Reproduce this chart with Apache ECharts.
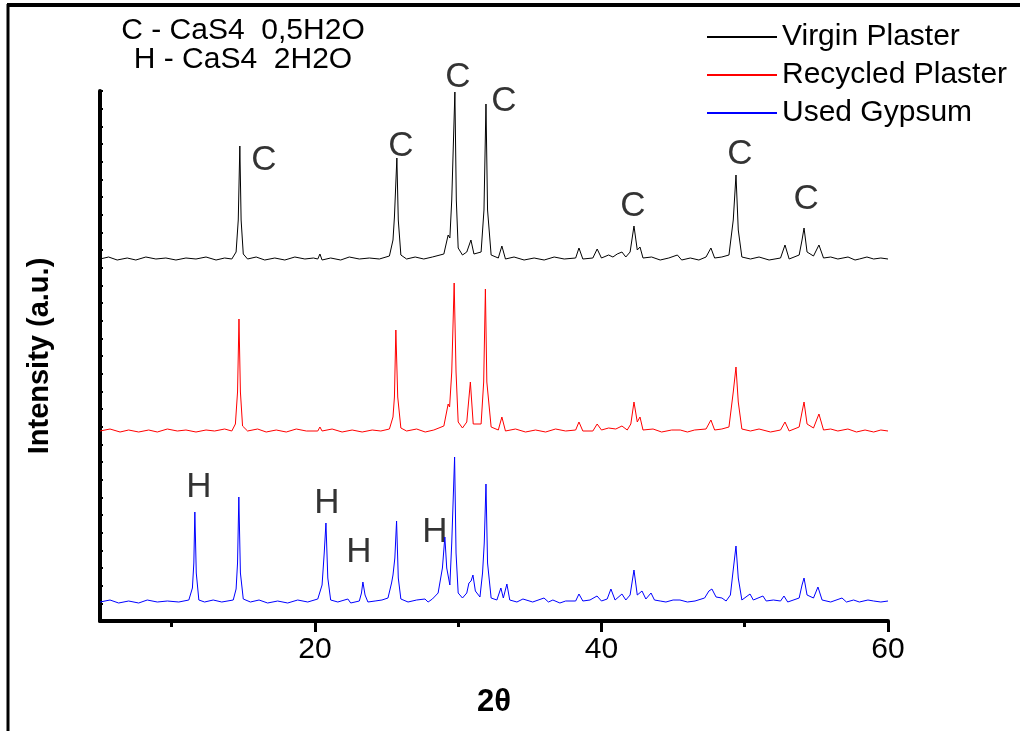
<!DOCTYPE html>
<html>
<head>
<meta charset="UTF-8">
<title>XRD</title>
<script src="https://cdn.jsdelivr.net/npm/echarts@6/dist/echarts.min.js"></script>
<style>
  html, body { margin: 0; padding: 0; background: #fff; }
  #chart { width: 1020px; height: 731px; }
</style>
</head>
<body>
<div id="chart"></div>
<script type="text/javascript">
// 2theta, intensity above each trace's own baseline
var virginPlaster = [
  [5, 1], [5.6, 3], [6.2, 0], [6.9, 2], [7.5, 0], [8.2, 3], [8.9, 1], [9.6, 2], [10.3, 0], [11, 2], [11.7, 1], [12.4, 3],
  [13.1, 0], [13.7, 2], [14.2, 1], [14.5, 8], [14.65, 40], [14.76, 114], [14.85, 40], [15.0, 6], [15.3, 1],
  [15.9, 3], [16.5, 0], [17.2, 2], [17.9, 0], [18.6, 3], [19.3, 1], [19.9, 2], [20.2, 1], [20.35, 6], [20.5, 0],
  [21.1, 2], [21.8, 0], [22.4, 3], [23.1, 1], [23.8, 2], [24.5, 1], [25.2, 4], [25.45, 20], [25.55, 43], [25.72, 102],
  [25.82, 40], [26.0, 5], [26.4, 1], [27.0, 3], [27.6, 1], [28.2, 3], [29.0, 6], [29.3, 25], [29.42, 22], [29.55, 60],
  [29.77, 168], [29.87, 60], [30.0, 12], [30.3, 5], [30.6, 8], [30.89, 20], [31.1, 6], [31.6, 8], [31.8, 50], [31.94, 156],
  [32.05, 50], [32.3, 5], [32.8, 2], [33.05, 14], [33.3, 1], [33.9, 3], [34.6, 0], [35.3, 2], [36.0, 0], [36.7, 3],
  [37.4, 1], [38.2, 2], [38.43, 12], [38.7, 1], [39.4, 2], [39.7, 11], [40.0, 2], [40.5, 5], [40.8, 3], [41.1, 6],
  [41.43, 8], [41.7, 3], [42.0, 8], [42.27, 34], [42.5, 10], [42.69, 13], [42.9, 2], [43.5, 3], [44.1, 0], [44.7, 2],
  [45.3, 5], [45.6, 0], [46.2, 2], [46.8, 0], [47.3, 3], [47.64, 12], [47.9, 2], [48.4, 3], [48.9, 5], [49.2, 40],
  [49.39, 85], [49.55, 30], [49.8, 3], [50.4, 1], [51, 3], [51.7, 0], [52.5, 2], [52.81, 15], [53.1, 1], [53.8, 5],
  [54.0, 20], [54.14, 32], [54.35, 8], [54.8, 4], [55.18, 15], [55.5, 2], [56.0, 3], [56.5, 1], [57.21, 3], [57.7, 0],
  [58.0, 1], [58.53, 3], [59, 1], [59.5, 2], [60, 1]
];
var recycledPlaster = [
  [5, 1], [5.7, 3], [6.4, 0], [7, 2], [7.7, 0], [8.4, 2], [9, 0], [9.7, 3], [10.4, 1], [11, 2], [11.7, 0], [12.4, 2],
  [13, 1], [13.7, 3], [14.2, 1], [14.45, 8], [14.6, 40], [14.7, 113], [14.8, 40], [14.95, 6], [15.3, 1], [16, 3],
  [16.6, 0], [17.3, 2], [18, 0], [18.7, 3], [19.4, 1], [20.2, 1], [20.35, 5], [20.5, 1], [21.2, 3], [21.9, 0],
  [22.6, 2], [23.3, 0], [24, 2], [24.6, 1], [25.2, 3], [25.45, 15], [25.55, 35], [25.65, 102], [25.78, 35], [26.0, 4],
  [26.4, 1], [27.1, 3], [27.7, 0], [28.3, 2], [29.0, 6], [29.3, 28], [29.4, 25], [29.55, 60], [29.72, 149], [29.85, 60],
  [30.0, 10], [30.3, 4], [30.6, 10], [30.85, 50], [31.05, 8], [31.6, 8], [31.78, 50], [31.9, 143], [32.0, 50], [32.3, 5],
  [32.8, 2], [33.05, 15], [33.3, 1], [34, 3], [34.7, 0], [35.4, 2], [36.1, 0], [36.8, 3], [37.5, 1], [38.2, 2],
  [38.43, 10], [38.7, 1], [39.4, 1], [39.7, 8], [40.0, 2], [40.5, 4], [41.0, 3], [41.43, 6], [41.8, 2], [42.05, 8],
  [42.27, 30], [42.5, 10], [42.69, 15], [42.9, 2], [43.6, 3], [44.2, 0], [44.9, 2], [45.5, 2], [46, 0], [46.5, 2],
  [47.3, 3], [47.64, 12], [47.9, 2], [48.4, 3], [48.9, 5], [49.2, 40], [49.39, 65], [49.55, 30], [49.8, 3], [50.4, 1],
  [51, 3], [51.8, 0], [52.5, 2], [52.81, 10], [53.1, 1], [53.8, 5], [54.0, 20], [54.14, 30], [54.35, 8], [54.8, 4],
  [55.18, 18], [55.5, 2], [56, 3], [56.5, 1], [57.2, 3], [57.8, 0], [58.4, 2], [59, 0], [59.5, 2], [60, 1]
];
var usedGypsum = [
  [5, 1], [5.7, 3], [6.3, 0], [7, 2], [7.7, 0], [8.3, 3], [9, 1], [9.7, 2], [10.5, 1], [11.2, 3], [11.45, 15], [11.55, 40],
  [11.62, 91], [11.72, 30], [11.9, 3], [12.3, 1], [12.9, 3], [13.5, 1], [14.3, 3], [14.5, 14], [14.6, 40], [14.69, 106],
  [14.8, 30], [15.0, 4], [15.5, 1], [16.1, 3], [16.7, 0], [17.4, 2], [18.1, 0], [18.8, 3], [19.5, 1], [20.2, 4],
  [20.5, 18], [20.65, 50], [20.77, 80], [20.9, 25], [21.1, 3], [21.6, 1], [22.3, 4], [22.5, 0], [23.1, 2], [23.25, 10],
  [23.35, 21], [23.5, 8], [23.7, 1], [24.2, 2], [24.68, 3], [25.1, 5], [25.35, 20], [25.45, 28], [25.58, 45], [25.7, 82],
  [25.82, 25], [26.0, 4], [26.5, 1], [27.1, 3], [27.68, 4], [27.9, 1], [28.2, 4], [28.6, 10], [28.9, 35], [29.07, 66],
  [29.2, 35], [29.42, 18], [29.55, 60], [29.75, 146], [29.85, 50], [30.0, 10], [30.3, 5], [30.6, 10], [30.75, 20],
  [30.9, 22], [31.03, 28], [31.2, 12], [31.52, 6], [31.7, 30], [31.82, 60], [31.94, 119], [32.05, 40], [32.3, 5],
  [32.7, 3], [32.98, 15], [33.15, 5], [33.4, 19], [33.6, 3], [34.1, 1], [34.52, 4], [35.2, 1], [35.99, 5], [36.3, 1],
  [36.61, 3], [37.1, 0], [37.5, 2], [38.2, 2], [38.43, 9], [38.7, 2], [39.2, 3], [39.69, 7], [40.0, 2], [40.4, 4],
  [40.66, 14], [40.95, 3], [41.43, 9], [41.7, 3], [42.0, 8], [42.27, 33], [42.5, 8], [42.83, 12], [43.1, 4], [43.46, 10],
  [43.7, 3], [44.1, 2], [44.5, 1], [45, 3], [45.48, 3], [46, 1], [46.53, 2], [47.2, 5], [47.5, 12], [47.71, 14],
  [48.0, 6], [48.41, 5], [48.7, 2], [49.0, 8], [49.18, 31], [49.39, 57], [49.55, 25], [49.8, 3], [50.37, 9], [50.6, 3],
  [51.27, 7], [51.5, 2], [52, 3], [52.5, 2], [52.74, 7], [53.0, 1], [53.8, 5], [54.0, 18], [54.14, 25], [54.35, 8],
  [54.8, 5], [55.11, 16], [55.4, 3], [56, 1], [56.79, 5], [57.1, 1], [57.6, 3], [58, 1], [58.6, 3], [59, 2], [59.5, 1], [60, 2]
];

var seriesNames = ['Virgin Plaster', 'Recycled Plaster', 'Used Gypsum'];
var seriesOffsets = [361, 189, 18];
var seriesColors = ['#000000', '#ff0000', '#0000ff'];

// phase marks: 2theta, intensity, letter
var peakMarks = [
  [16.44, 461, 'C'], [26.0, 475, 'C'], [29.98, 544, 'C'], [33.19, 520, 'C'],
  [42.2, 415, 'C'], [49.67, 467, 'C'], [54.28, 422, 'C'],
  [11.9, 134, 'H'], [20.84, 118, 'H'], [23.07, 69, 'H'], [28.38, 89, 'H']
];

var majorTicks = [20, 40, 60];
var minorTicks = [10, 30, 50];

var font = 'Arial, "Liberation Sans", sans-serif';
var myChart = echarts.init(document.getElementById('chart'));

var traces = [virginPlaster, recycledPlaster, usedGypsum];
var series = [];
for (var i = 0; i < traces.length; i++) {
  var off = seriesOffsets[i];
  series.push({
    name: seriesNames[i],
    type: 'line',
    showSymbol: false,
    symbol: 'none',
    lineStyle: { color: seriesColors[i], width: 1 },
    itemStyle: { color: seriesColors[i] },
    data: traces[i].map(function (p) { return [p[0], p[1] + off]; })
  });
}
series.push({
  type: 'scatter',
  clip: false,
  symbolSize: 0,
  silent: true,
  data: peakMarks,
  label: {
    show: true,
    position: 'inside',
    formatter: function (p) { return p.data[2]; },
    color: '#000',
    textBorderWidth: 0,
    fontSize: 35,
    fontFamily: font
  }
});

var option = {
  animation: false,
  backgroundColor: '#fff',
  grid: { left: 100, right: 132, top: 91, bottom: 110 },
  legend: {
    data: seriesNames,
    orient: 'vertical',
    left: 702,
    top: 17,
    itemWidth: 70,
    itemHeight: 2,
    itemGap: 8,
    icon: 'rect',
    textStyle: { fontSize: 30, color: '#000', fontFamily: font }
  },
  xAxis: [{
    type: 'value',
    min: 5,
    max: 60,
    position: 'bottom',
    name: '2θ',
    nameLocation: 'middle',
    nameGap: 66,
    nameTextStyle: { fontSize: 31, fontWeight: 'bold', color: '#000', fontFamily: font },
    axisLine: { lineStyle: { color: '#000', width: 4 } },
    axisTick: { show: true, customValues: majorTicks, length: 11, lineStyle: { color: '#000', width: 3 } },
    axisLabel: { customValues: majorTicks, fontSize: 30, color: '#000', fontFamily: font, margin: 14 },
    splitLine: { show: false }
  }, {
    type: 'value',
    min: 5,
    max: 60,
    position: 'bottom',
    axisLine: { show: false },
    axisTick: { show: true, customValues: minorTicks, length: 6, lineStyle: { color: '#000', width: 3 } },
    axisLabel: { show: false },
    splitLine: { show: false }
  }],
  yAxis: {
    type: 'value',
    min: 0,
    max: 530,
    interval: 530 / 30,
    name: 'Intensity (a.u.)',
    nameLocation: 'middle',
    nameGap: 46,
    nameTextStyle: { fontSize: 29, fontWeight: 'bold', color: '#000', fontFamily: font },
    axisLine: { show: true, lineStyle: { color: '#000', width: 4 } },
    axisTick: { show: true, inside: true, length: 3, lineStyle: { color: '#000', width: 2 } },
    axisLabel: { show: false },
    splitLine: { show: false }
  },
  graphic: [
    { type: 'line', shape: { x1: 7, y1: 5, x2: 1020, y2: 5 }, style: { stroke: '#000', lineWidth: 4 } },
    { type: 'line', shape: { x1: 8, y1: 4, x2: 8, y2: 731 }, style: { stroke: '#000', lineWidth: 3 } },
    { type: 'text', style: { text: 'C - CaS4  0,5H2O', x: 243, y: 31, textAlign: 'center', textVerticalAlign: 'middle', fontSize: 30, fontFamily: font, fill: '#000' } },
    { type: 'text', style: { text: 'H - CaS4  2H2O', x: 243, y: 60, textAlign: 'center', textVerticalAlign: 'middle', fontSize: 30, fontFamily: font, fill: '#000' } }
  ],
  series: series
};
myChart.setOption(option);
</script>
</body>
</html>
